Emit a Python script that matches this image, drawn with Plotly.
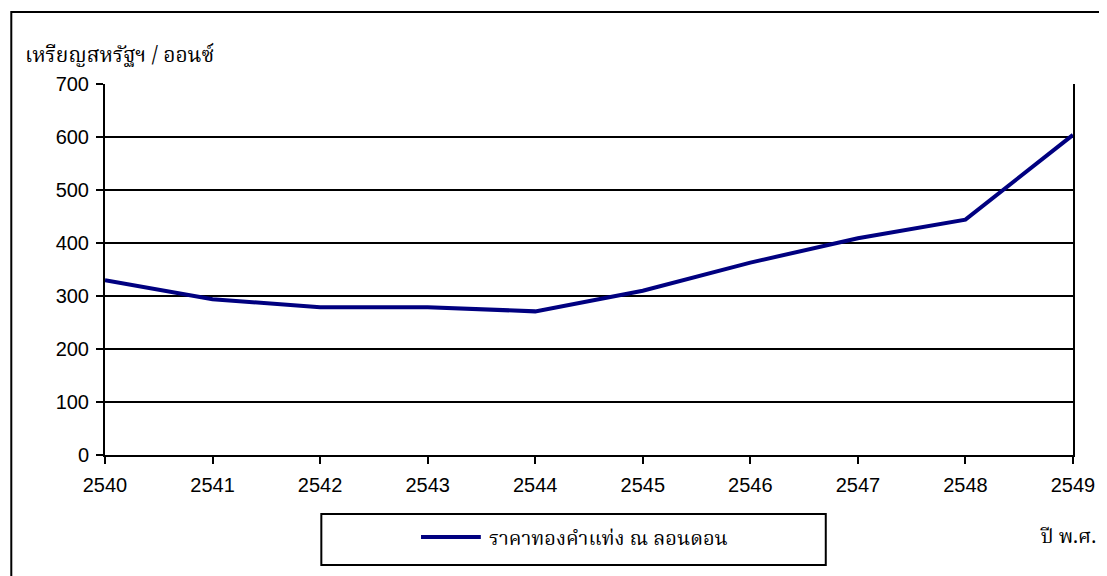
import plotly.graph_objects as go

years = [2540, 2541, 2542, 2543, 2544, 2545, 2546, 2547, 2548, 2549]
price = [330, 294, 279, 279, 271, 310, 363, 409, 444, 604]
y_ticks = [0, 100, 200, 300, 400, 500, 600, 700]
series_name = "ราคาทองคำแท่ง ณ ลอนดอน"
y_title = "เหรียญสหรัฐฯ / ออนซ์"
x_title = "ปี พ.ศ."

# page body has an 8px margin; work in reference pixel coordinates and shift
OFF = 8
W, H = 1107 - OFF, 576 - OFF
L, R, T, B = 105 - OFF, 1076 - OFF, 84 - OFF, 455 - OFF
pw, ph = R - L, B - T

def px(x):
    return (x - OFF - L) / pw

def py(y):
    return (B - (y - OFF)) / ph

thai_font = "Noto Serif Thai, Tlwg Typo, Norasi, Loma, Noto Sans Thai, serif"
navy = "#000080"

fig = go.Figure()
fig.add_trace(go.Scatter(x=years, y=price, mode="lines",
                         line=dict(color=navy, width=4), name=series_name,
                         showlegend=False))

fig.update_layout(
    width=W, height=H,
    margin=dict(l=L, r=W - R, t=T, b=H - B),
    paper_bgcolor="white", plot_bgcolor="white",
    font=dict(family="Liberation Sans, Arial, sans-serif", size=20, color="black"),
    xaxis=dict(range=[2540, 2549], tickvals=years, ticktext=[str(y) for y in years],
               showgrid=False, zeroline=False, showline=True, linecolor="black",
               linewidth=2, mirror=False, ticks="outside", ticklen=7, tickwidth=2,
               tickcolor="black", tickfont=dict(size=20), ticklabelstandoff=4),
    yaxis=dict(range=[0, 700], tickvals=y_ticks, showgrid=True, gridcolor="black",
               gridwidth=2, zeroline=False, showline=True, linecolor="black",
               linewidth=2, mirror=True, ticks="outside", ticklen=7, tickwidth=2,
               tickcolor="black", tickfont=dict(size=20), ticklabelstandoff=3),
)

shapes = []
# outer frame
shapes.append(dict(type="rect", xref="paper", yref="paper",
                   x0=px(11), x1=px(1125), y0=py(600), y1=py(12),
                   line=dict(color="black", width=2), fillcolor="rgba(0,0,0,0)",
                   layer="below"))
# legend box
shapes.append(dict(type="rect", xref="paper", yref="paper",
                   x0=px(322), x1=px(828), y0=py(565), y1=py(514),
                   line=dict(color="black", width=2), fillcolor="white"))
# legend line sample
shapes.append(dict(type="line", xref="paper", yref="paper",
                   x0=px(422), x1=px(482), y0=py(537), y1=py(537),
                   line=dict(color=navy, width=4)))
fig.update_layout(shapes=shapes)

fig.add_annotation(text=series_name, xref="paper", yref="paper",
                   x=px(488), y=py(540), xanchor="left", yanchor="middle",
                   showarrow=False, font=dict(family=thai_font, size=20, color="black"))
fig.add_annotation(text=y_title, xref="paper", yref="paper",
                   x=px(23), y=py(56), xanchor="left", yanchor="middle",
                   showarrow=False, font=dict(family=thai_font, size=21, color="black"))
fig.add_annotation(text=x_title, xref="paper", yref="paper",
                   x=px(1101), y=py(538), xanchor="right", yanchor="middle",
                   showarrow=False, font=dict(family=thai_font, size=20, color="black"))

fig.write_html("out.html")
